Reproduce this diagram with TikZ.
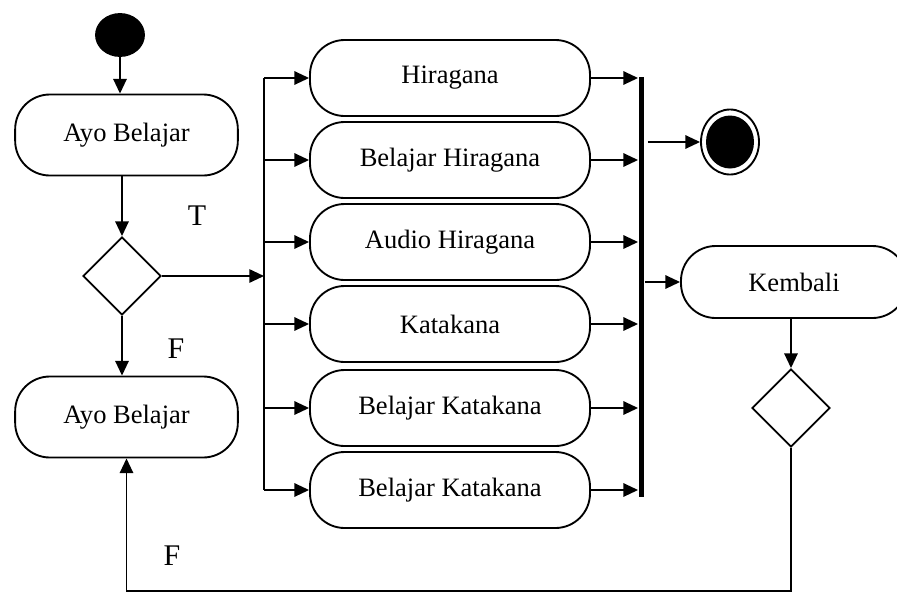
\documentclass[tikz,border=0pt]{standalone}
\usepackage{fontspec}
\setmainfont{Liberation Serif}
\usetikzlibrary{arrows.meta,shapes.geometric}
\begin{document}
\begin{tikzpicture}[x=0.75pt,y=-0.75pt,line width=1.4pt,
  flow/.style={-{Triangle[length=11pt,width=10pt]}},
  activity/.style={draw,rectangle,rounded corners=26pt,
    font=\fontsize{19.9}{24}\selectfont,inner sep=0pt},
  wide/.style={activity,minimum width=167pt,minimum height=60.75pt},
  mid/.style={activity,minimum width=210pt,minimum height=57pt},
  choice/.style={draw,diamond,aspect=1,inner sep=0pt,
    minimum width=58.5pt,minimum height=58.5pt},
  guard/.style={font=\fontsize{22.5}{26}\selectfont,inner sep=0pt}]
\useasboundingbox (0,0) rectangle (897,594);
\clip (0,0) rectangle (897,594);

% start and first activity
\node[draw,fill=black,ellipse,minimum width=36pt,minimum height=31.5pt,inner sep=0pt] (start) at (120,35) {};
\node[wide] (ayo1) at (126.5,135) {Ayo Belajar};
\node[choice] (dec1) at (122,276) {};
\node[wide] (ayo2) at (126.5,417) {Ayo Belajar};

% fork line feeding the six activities
\coordinate (fork) at (264,276);
\coordinate (forktop) at (264,78);
\coordinate (forkbot) at (264,490);
\node[mid] (h1) at (450,78)  {Hiragana};
\node[mid] (h2) at (450,160) {Belajar Hiragana};
\node[mid] (h3) at (450,242) {Audio Hiragana};
\node[mid] (h4) at (450,324) {Katakana};
\node[mid] (h5) at (450,408) {Belajar Katakana};
\node[mid] (h6) at (450,490) {Belajar Katakana};

% join bar
\node[fill=black,rectangle,minimum width=3.75pt,minimum height=315pt,inner sep=0pt] (bar) at (641.5,287) {};

% final node
\node[draw,ellipse,minimum width=43.5pt,minimum height=48.75pt,inner sep=0pt] (final) at (730,142) {};
\node[fill=black,ellipse,minimum width=36pt,minimum height=39.75pt,inner sep=0pt] (finalin) at (final.center) {};

\node[activity,minimum width=169.5pt,minimum height=54pt] (back) at (794,282) {Kembali};
\node[choice] (dec2) at (791,408) {};

% guards
\node[guard] (gT) at (197,216) {T};
\node[guard] (gF1) at (176,349) {F};
\node[guard] (gF2) at (172,556) {F};

% connectors
\draw[flow] (start.south) -- (start.south |- ayo1.north);
\draw[flow] (ayo1.south -| dec1) -- (dec1.north);
\draw[flow] (dec1.south) -- (dec1.south |- ayo2.north);
\draw[flow] (dec1.east) -- (fork);
\draw (forktop) -- (forkbot);
\foreach \n in {h1,h2,h3,h4,h5,h6}{
  \draw[flow] (fork |- \n.west) -- (\n.west);
  \draw[flow] (\n.east) -- (\n.east -| bar.west);
}
\draw[flow] (bar.east |- final.west) ++(3,0) -- (final.west);
\draw[flow] (bar.east |- back.west) -- (back.west);
\draw[flow] (back.south -| dec2) -- (dec2.north);
\draw[flow] (dec2.south) -- ++(0,143) -| (ayo2.south);
\end{tikzpicture}
\end{document}
